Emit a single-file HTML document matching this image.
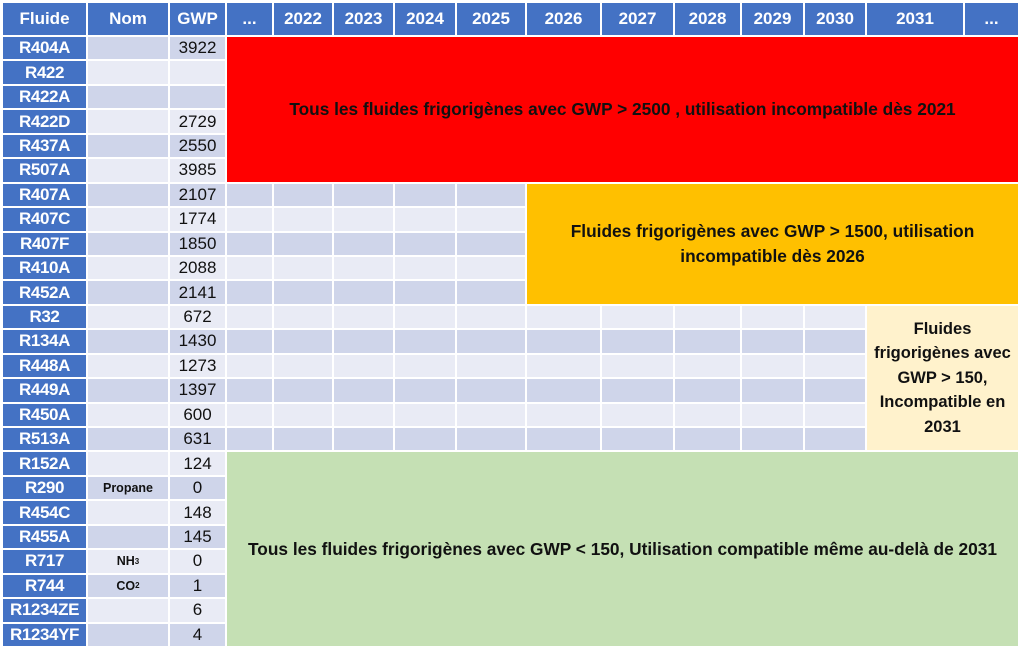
<!DOCTYPE html>
<html><head><meta charset="utf-8"><style>
html,body{margin:0;padding:0;background:#fff;width:1024px;height:660px;overflow:hidden}
#g{position:absolute;left:3px;top:3px;display:grid;
grid-template-columns:83px 80px 55px 45px 58px 59px 60px 68px 73px 71px 65px 61px 60px 96px 53px;
grid-template-rows:32px repeat(25,22.45px);gap:2px;
font-family:"Liberation Sans",sans-serif}
#g div{display:flex;align-items:center;justify-content:center;box-sizing:border-box}
.h{background:#4472c4;color:#fff;font-weight:bold;font-size:17px}
.f{background:#4472c4;color:#fff;font-weight:bold;font-size:17px;letter-spacing:-0.4px}
.d{background:#cfd5ea}.l{background:#e9ebf5}
.n{font-size:17px;color:#111}
.nm{font-size:12.5px;font-weight:bold;color:#111}
.b{font-weight:bold;font-size:17.3px;color:#111;text-align:center;line-height:24.5px}
</style></head><body>
<div id="g"></div>
<script>
var g=document.getElementById('g');
function add(cls,txt,r,c,rs,cs){var d=document.createElement('div');d.className=cls;d.innerHTML=txt;
d.style.gridRow=r+(rs?' / span '+rs:'');d.style.gridColumn=c+(cs?' / span '+cs:'');g.appendChild(d);}
var hs=['Fluide','Nom','GWP','...','2022','2023','2024','2025','2026','2027','2028','2029','2030','2031','...'];
hs.forEach(function(h,i){add('h',h,1,i+1);});
var rows=[['R404A','','3922'],['R422','',''],['R422A','',''],['R422D','','2729'],['R437A','','2550'],['R507A','','3985'],
['R407A','','2107'],['R407C','','1774'],['R407F','','1850'],['R410A','','2088'],['R452A','','2141'],
['R32','','672'],['R134A','','1430'],['R448A','','1273'],['R449A','','1397'],['R450A','','600'],['R513A','','631'],
['R152A','','124'],['R290','Propane','0'],['R454C','','148'],['R455A','','145'],['R717','NH<sub style="font-size:8px">3</sub>','0'],
['R744','CO<sub style="font-size:8px">2</sub>','1'],['R1234ZE','','6'],['R1234YF','','4']];
rows.forEach(function(r,i){var gr=i+2,bg=(i%2==0)?'d':'l';
add('f',r[0],gr,1);add(bg+' nm',r[1],gr,2);add(bg+' n',r[2],gr,3);
if(i>=6&&i<=10){for(var c=4;c<=8;c++)add(bg,'',gr,c);}
if(i>=11&&i<=16){for(var c=4;c<=13;c++)add(bg,'',gr,c);}
});
function blk(bgc,txt,r,c,rs,cs,fs){var d=document.createElement('div');d.className='b';d.innerHTML=txt;
if(fs)d.style.fontSize=fs;
d.style.background=bgc;d.style.gridRow=r+' / span '+rs;d.style.gridColumn=c+' / span '+cs;g.appendChild(d);}
blk('#ff0000','Tous les fluides frigorigènes avec GWP &gt; 2500 , utilisation incompatible dès 2021',2,4,6,12);
blk('#ffc000','Fluides frigorigènes avec GWP &gt; 1500, utilisation<br>incompatible dès 2026',8,9,5,7);
blk('#fff2cc','Fluides<br>frigorigènes avec<br>GWP &gt; 150,<br>Incompatible en<br>2031',13,14,6,2,'16.5px');
blk('#c5e0b4','Tous les fluides frigorigènes avec GWP &lt; 150, Utilisation compatible même au-delà de 2031',19,4,8,12);
</script>
</body></html>
